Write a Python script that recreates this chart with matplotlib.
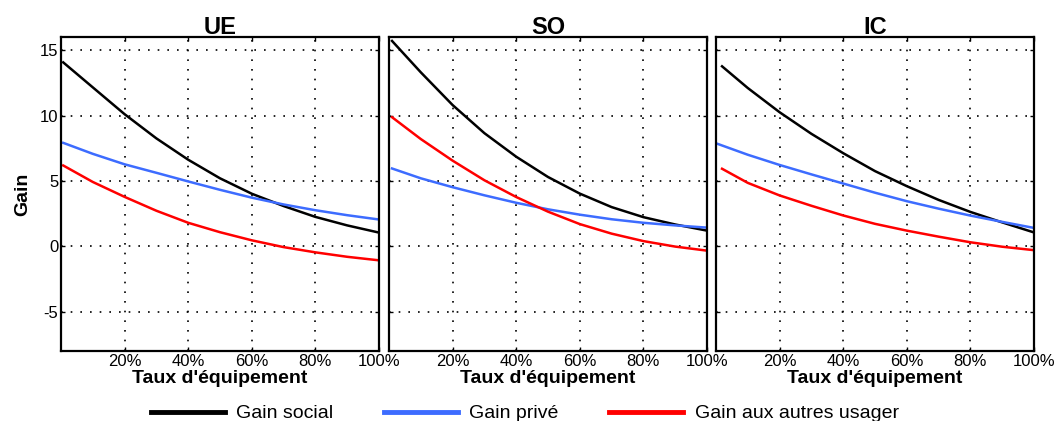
import matplotlib
matplotlib.use("Agg")
import matplotlib.pyplot as plt
from matplotlib.ticker import FuncFormatter

plt.rcParams['font.family'] = ['Liberation Sans', 'DejaVu Sans']
plt.rcParams['axes.unicode_minus'] = False

panels = ["UE", "SO", "IC"]

x_ue = [0.007, 0.1, 0.2, 0.3, 0.4, 0.5, 0.6, 0.7, 0.8, 0.9, 1.0]
social_ue = [14.06, 12.15, 10.1, 8.25, 6.62, 5.2, 4.02, 3.08, 2.25, 1.6, 1.05]
prive_ue = [7.91, 7.07, 6.27, 5.62, 4.96, 4.32, 3.72, 3.2, 2.76, 2.38, 2.05]
autres_ue = [6.18, 4.92, 3.78, 2.72, 1.8, 1.08, 0.46, -0.06, -0.46, -0.8, -1.07]

x_so = [0.0095, 0.1, 0.2, 0.3, 0.4, 0.5, 0.6, 0.7, 0.8, 0.9, 1.0]
social_so = [15.7, 13.3, 10.8, 8.65, 6.85, 5.3, 4.03, 3.0, 2.23, 1.67, 1.2]
prive_so = [5.95, 5.2, 4.52, 3.9, 3.33, 2.83, 2.42, 2.07, 1.8, 1.6, 1.43]
autres_so = [9.87, 8.2, 6.55, 5.05, 3.77, 2.65, 1.7, 0.97, 0.4, -0.02, -0.33]

x_ic = [0.019, 0.1, 0.2, 0.3, 0.4, 0.5, 0.6, 0.7, 0.8, 0.9, 0.995]
x_ic_prive = [0.003, 0.1, 0.2, 0.3, 0.4, 0.5, 0.6, 0.7, 0.8, 0.9, 0.995]
social_ic = [13.76, 12.1, 10.25, 8.6, 7.12, 5.75, 4.6, 3.55, 2.63, 1.83, 1.1]
prive_ic = [7.85, 7.0, 6.22, 5.5, 4.8, 4.1, 3.45, 2.88, 2.35, 1.87, 1.43]
autres_ic = [5.93, 4.85, 3.89, 3.1, 2.36, 1.72, 1.2, 0.74, 0.31, -0.03, -0.28]

xs_social = [x_ue, x_so, x_ic]
xs_prive = [x_ue, x_so, x_ic_prive]
xs_autres = [x_ue, x_so, x_ic]
social = [social_ue, social_so, social_ic]
prive = [prive_ue, prive_so, prive_ic]
autres = [autres_ue, autres_so, autres_ic]

labels = ["Gain social", "Gain privé", "Gain aux autres usager"]
colors = ["#000000", "#3d6cff", "#ff0000"]

xticks = [0.2, 0.4, 0.6, 0.8, 1.0]
yticks = [-5, 0, 5, 10, 15]

fig = plt.figure(figsize=(10.56, 4.21), dpi=100)
lefts = [61, 389, 716]
W, H = 1056, 421
axes = []
for i, name in enumerate(panels):
    ax = fig.add_axes([lefts[i] / W, 1 - 351 / H, 318 / W, 314 / H])
    axes.append(ax)
    ax.plot(xs_social[i], social[i], color=colors[0], lw=1.8, label=labels[0])
    ax.plot(xs_prive[i], prive[i], color=colors[1], lw=1.8, label=labels[1])
    ax.plot(xs_autres[i], autres[i], color=colors[2], lw=1.8, label=labels[2])
    ax.set_xlim(0, 1)
    ax.set_ylim(-8, 16)
    ax.set_xticks(xticks)
    ax.set_yticks(yticks)
    ax.xaxis.set_major_formatter(FuncFormatter(lambda v, p: f"{int(round(v*100))}%"))
    ax.grid(True, color='black', linestyle=(0, (1, 4.8)), linewidth=1.2)
    ax.tick_params(direction='in', top=True, right=True, length=3, width=1,
                   labelsize=12, pad=2)
    for s in ax.spines.values():
        s.set_linewidth(1.6)
    ax.set_title(name, fontsize=17, fontweight='bold', pad=2)
    ax.set_xlabel("Taux d'équipement", fontsize=14, fontweight='bold', labelpad=1)
    if i == 0:
        ax.set_ylabel("Gain", fontsize=14, fontweight='bold', labelpad=6)
    else:
        ax.set_yticklabels([])

handles, labs = axes[0].get_legend_handles_labels()
leg = fig.legend(handles, labs, loc='lower center', ncol=3, frameon=False,
                 bbox_to_anchor=(0.497, -0.045), fontsize=14, handlelength=3.8,
                 handletextpad=0.6, columnspacing=2.6)
for l in leg.get_lines():
    l.set_linewidth(3.5)

fig.savefig("out.png", dpi=100)
